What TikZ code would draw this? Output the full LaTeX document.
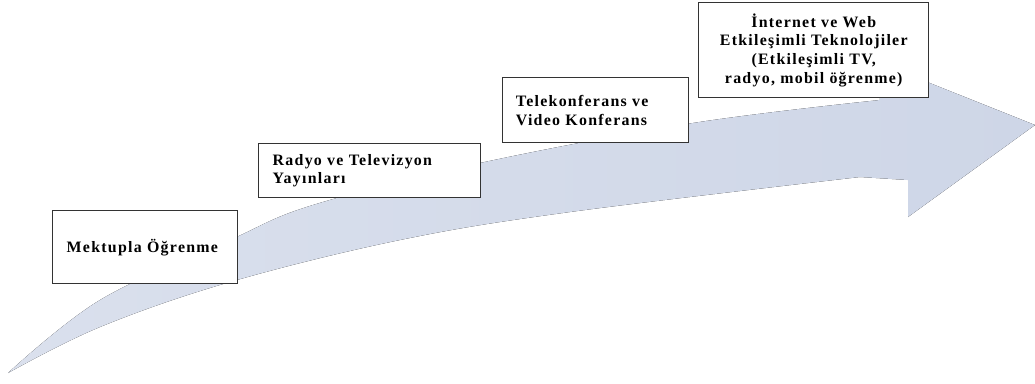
\documentclass[tikz,border=0pt]{standalone}
\usepackage{fontspec}
\setmainfont{Liberation Serif}[LetterSpace=8]
\definecolor{okacik}{RGB}{218,224,237}
\definecolor{okkoyu}{RGB}{206,214,231}
\tikzset{
  kutu/.style={draw=black!80, line width=1pt, fill=white, anchor=north west,
    font=\bfseries\fontsize{11.3}{13.3}\selectfont, inner ysep=2pt},
}
\begin{document}
\begin{tikzpicture}[x=0.025cm, y=-0.025cm]
\useasboundingbox (0,0) rectangle (1035,383);

% Kavisli ok
\fill[left color=okacik, right color=okkoyu]
  plot[smooth, tension=0.6] coordinates {(8,373) (100,300) (230,240) (313,205) (480,163) (693,123) (880,100)}
  -- (877,62) -- (1035,125) -- (908,217) -- (908,180)
  -- plot[smooth, tension=0.6] coordinates {(860,177) (570,212) (400,240) (230,282) (100,327) (8,373)}
  -- cycle;

% Kutular
\node[kutu, inner xsep=0.35cm, text width=3.925cm, minimum height=1.825cm, align=left] (mektup) at (52,210) {Mektupla Öğrenme};
\node[kutu, inner xsep=0.35cm, text width=4.85cm, minimum height=1.35cm, align=left] (radyo) at (258,143) {Radyo ve Televizyon\\Yayınları};
\node[kutu, inner xsep=0.33cm, text width=3.99cm, minimum height=1.625cm, align=left] (tele) at (502,77) {Telekonferans ve\\Video Konferans};
\node[kutu, inner xsep=0.2cm, text width=5.35cm, minimum height=2.375cm, align=center] (internet) at (698,2) {İnternet ve Web\\Etkileşimli Teknolojiler\\(Etkileşimli TV,\\radyo, mobil öğrenme)};
\end{tikzpicture}
\end{document}
